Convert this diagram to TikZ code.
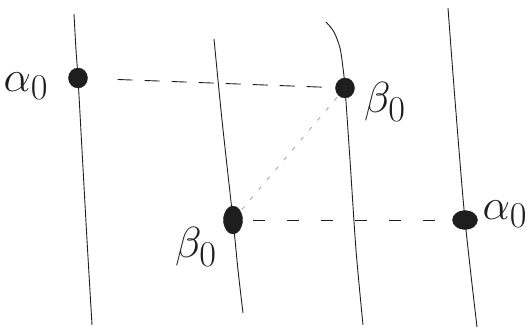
\documentclass[tikz,border=0pt]{standalone}
\usepackage{amsmath,amssymb}
\usepackage{graphicx}
\usepackage{xcolor}
\usepackage{tikz}
\usetikzlibrary{arrows.meta,calc,shapes.geometric}
\definecolor{pencil}{HTML}{1E1E1E}
\definecolor{faintgray}{HTML}{A8A8A8}
\newcommand{\biglbl}[1]{\scalebox{1.75}{\Huge$#1$}}

\begin{document}
\begin{tikzpicture}[x=1pt, y=-1pt,
    every node/.style={inner sep=0pt},
    strand/.style={pencil, line width=0.9pt},
    dot/.style={ellipse, fill=pencil, draw=pencil, minimum width=19pt, minimum height=20pt},
    lbl/.style={text=pencil},
    hdash/.style={pencil, line width=0.9pt, dash pattern=on 15pt off 12pt}
]
\useasboundingbox (0,0) rectangle (532,329);
% four strands
\draw[strand] plot[smooth] coordinates {(74,14) (76,50) (78,78) (82,150) (87,240) (92,325)};
\draw[strand] plot[smooth] coordinates {(214,39) (222,120) (233,220) (238,270) (243,313)};
\draw[strand] plot[smooth] coordinates {(326,22) (334,32) (340,48) (343,68) (345,88) (350,160) (356,250) (363,325)};
\draw[strand] plot[smooth] coordinates {(448,8) (455,100) (465,220) (477,327)};
% points on the strands
\node[dot] (a1) at (78,78) {};
\node[dot] (b1) at (345,88) {};
\node[dot, minimum width=19pt, minimum height=28pt] (b2) at (233,220) {};
\node[dot, minimum width=25pt, minimum height=19pt] (a2) at (465,220) {};
\node[lbl] (la1) at (26,86) {\biglbl{\alpha_0}};
\node[lbl] (lb1) at (385,102) {\biglbl{\beta_0}};
\node[lbl] (lb2) at (196,247) {\biglbl{\beta_0}};
\node[lbl] (la2) at (505,214) {\biglbl{\alpha_0}};
% connections
\draw[hdash, shorten <=30pt, shorten >=2pt] (a1) -- (b1);
\draw[hdash, dash pattern=on 12pt off 22pt, shorten <=10pt] (b2) -- (a2);
\draw[faintgray, line width=0.9pt, dash pattern=on 4pt off 9pt, shorten <=2pt, shorten >=2pt] (b2) -- (b1);
\end{tikzpicture}
\end{document}
